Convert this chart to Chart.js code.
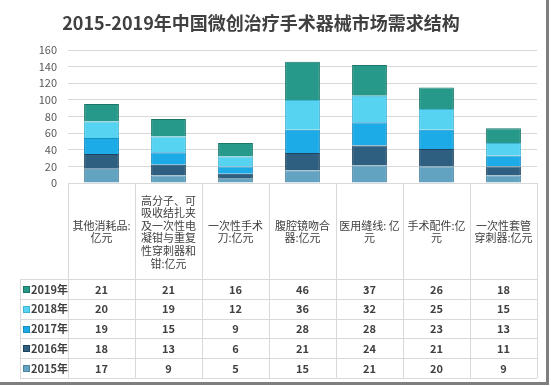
<!DOCTYPE html>
<html>
<head>
<meta charset="utf-8">
<script src="https://cdn.jsdelivr.net/npm/chart.js@4/dist/chart.umd.min.js"></script>
<style>
  html, body { margin: 0; padding: 0; background: #fff; }
  #wrap { position: relative; width: 551px; height: 386px; }
  #wrap::after {
    content: ""; position: absolute; right: 2px; bottom: 1px; top: 0; left: 0;
    border-right: 3px solid #7f7f7f; border-bottom: 3px solid #7f7f7f; pointer-events: none;
  }
</style>
</head>
<body>
<div id="wrap"><canvas id="chart" width="551" height="386"></canvas></div>
<script>
const title = "2015-2019年中国微创治疗手术器械市场需求结构";

const categories = [
  ["其他消耗品:", "亿元"],
  ["高分子、可", "吸收结扎夹", "及一次性电", "凝钳与重复", "性穿刺器和", "钳:亿元"],
  ["一次性手术", "刀:亿元"],
  ["腹腔镜吻合", "器:亿元"],
  ["医用缝线: 亿", "元"],
  ["手术配件:亿", "元"],
  ["一次性套管", "穿刺器:亿元"]
];

const years = ["2015年", "2016年", "2017年", "2018年", "2019年"];

const v2015 = [17, 9, 5, 15, 21, 20, 9];
const v2016 = [18, 13, 6, 21, 24, 21, 11];
const v2017 = [19, 15, 9, 28, 28, 23, 13];
const v2018 = [20, 19, 12, 36, 32, 25, 15];
const v2019 = [21, 21, 16, 46, 37, 26, 18];

const yTicks = { min: 0, max: 160, step: 20 };

const colors = ["#62a3c2", "#2e5f80", "#1cabe6", "#56d3f1", "#27998a"];
const borders = ["#4b86a3", "#1f435d", "#168ec2", "#3fb3d4", "#1b7668"];

const font = '"Noto Sans CJK SC", "Noto Sans", sans-serif';
const textColor = "#404040";
const lineColor = "#d9d9d9";

const series = [v2015, v2016, v2017, v2018, v2019];

// title sits a bit left of the canvas centre, like the original
const titlePlugin = {
  id: "titleText",
  afterDraw(chart) {
    const ctx = chart.ctx;
    ctx.save();
    ctx.fillStyle = textColor;
    ctx.font = "bold 18px " + font;
    ctx.textAlign = "center";
    ctx.textBaseline = "middle";
    ctx.fillText(title, 261, 23);
    ctx.restore();
  }
};

// data table under the plot, lined up with the x scale
const tablePlugin = {
  id: "dataTable",
  afterDraw(chart) {
    const ctx = chart.ctx;
    const area = chart.chartArea;
    const n = categories.length;
    const colW = area.width / n;
    const headTop = area.bottom;
    const headBottom = 279;
    const rowH = 19.8;
    const legLeft = 20;
    const tableBottom = headBottom + rowH * years.length;

    ctx.save();
    ctx.strokeStyle = lineColor;
    ctx.lineWidth = 1;
    ctx.beginPath();
    for (let i = 0; i <= n; i++) {
      const x = Math.round(area.left + colW * i) + 0.5;
      ctx.moveTo(x, headTop);
      ctx.lineTo(x, tableBottom);
    }
    ctx.moveTo(legLeft + 0.5, headBottom);
    ctx.lineTo(legLeft + 0.5, tableBottom);
    for (let r = 0; r <= years.length; r++) {
      const y = Math.round(headBottom + rowH * r) + 0.5;
      ctx.moveTo(legLeft, y);
      ctx.lineTo(area.right, y);
    }
    ctx.stroke();

    ctx.fillStyle = textColor;
    ctx.textAlign = "center";
    ctx.textBaseline = "middle";

    // category header cells
    ctx.font = "11px " + font;
    const lh = 12.6;
    const midHead = (headTop + headBottom) / 2 + 1;
    categories.forEach((lines, i) => {
      const cx = chart.scales.x.getPixelForValue(i);
      const y0 = midHead - (lines.length - 1) * lh / 2;
      lines.forEach((t, k) => ctx.fillText(t, cx, y0 + k * lh));
    });

    // rows, 2019 on top
    ctx.font = "bold 11px " + font;
    for (let r = 0; r < years.length; r++) {
      const s = years.length - 1 - r;
      const cy = headBottom + rowH * r + rowH / 2 + 0.5;
      series[s].forEach((v, i) => {
        const cx = chart.scales.x.getPixelForValue(i);
        ctx.fillText(String(v), cx, cy);
      });
      ctx.fillStyle = colors[s];
      ctx.fillRect(23, Math.round(cy - 3.5), 7, 7);
      ctx.strokeStyle = borders[s];
      ctx.strokeRect(23.5, Math.round(cy - 3.5) + 0.5, 6, 6);
      ctx.fillStyle = textColor;
      ctx.textAlign = "left";
      ctx.fillText(years[s], 31, cy);
      ctx.textAlign = "center";
    }
    ctx.restore();
  }
};

new Chart(document.getElementById("chart"), {
  type: "bar",
  data: {
    labels: categories,
    datasets: series.map((vals, i) => ({
      label: years[i],
      data: vals,
      backgroundColor: colors[i],
      borderColor: borders[i],
      borderWidth: 1,
      categoryPercentage: 1,
      barPercentage: 0.52
    }))
  },
  options: {
    responsive: false,
    animation: false,
    layout: { padding: { left: 0, top: 50, right: 14, bottom: 203 } },
    scales: {
      x: { stacked: true, display: false },
      y: {
        stacked: true,
        min: yTicks.min,
        max: yTicks.max,
        afterFit(scale) { scale.width = 68; },
        border: { display: false },
        grid: { color: lineColor, drawTicks: false },
        ticks: {
          stepSize: yTicks.step,
          autoSkip: false,
          padding: 11,
          color: "#595959",
          font: { family: font, size: 11 }
        }
      }
    },
    plugins: {
      legend: { display: false },
      tooltip: { enabled: false },
      title: { display: false }
    }
  },
  plugins: [tablePlugin, titlePlugin]
});
</script>
</body>
</html>
